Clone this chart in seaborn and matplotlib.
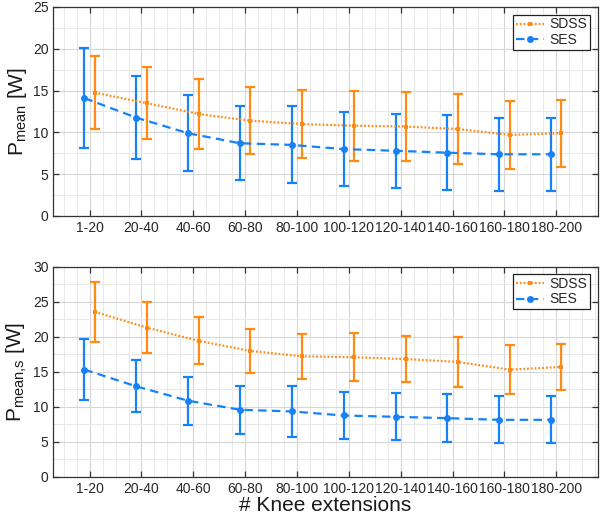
import numpy as np
import pandas as pd
import matplotlib
matplotlib.use("Agg")
import matplotlib.pyplot as plt
import seaborn as sns
from matplotlib.ticker import MultipleLocator

categories = ["1-20", "20-40", "40-60", "60-80", "80-100",
              "100-120", "120-140", "140-160", "160-180", "180-200"]

# Top panel: P_mean [W]
sdss_mean_top = [14.75, 13.5, 12.2, 11.4, 11.0, 10.8, 10.7, 10.4, 9.7, 9.9]
sdss_sd_top = [4.4, 4.35, 4.15, 4.0, 4.05, 4.2, 4.1, 4.2, 4.05, 4.0]
ses_mean_top = [14.1, 11.76, 9.9, 8.7, 8.5, 8.0, 7.8, 7.57, 7.38, 7.38]
ses_sd_top = [6.0, 4.95, 4.55, 4.45, 4.6, 4.4, 4.4, 4.45, 4.35, 4.35]

# Bottom panel: P_mean,s [W]
sdss_mean_bot = [23.55, 21.3, 19.4, 17.96, 17.2, 17.06, 16.8, 16.39, 15.29, 15.67]
sdss_sd_bot = [4.3, 3.6, 3.35, 3.1, 3.2, 3.45, 3.3, 3.55, 3.55, 3.3]
ses_mean_bot = [15.3, 12.9, 10.85, 9.56, 9.32, 8.74, 8.55, 8.36, 8.12, 8.12]
ses_sd_bot = [4.3, 3.7, 3.45, 3.45, 3.6, 3.4, 3.35, 3.45, 3.37, 3.35]

ORANGE = "#ff8a14"
BLUE = "#1781f7"

sns.set_style("whitegrid")
plt.rcParams["font.family"] = ["Liberation Sans", "DejaVu Sans"]
plt.rcParams["mathtext.fontset"] = "custom"
plt.rcParams["mathtext.rm"] = "Liberation Sans"
plt.rcParams["mathtext.it"] = "Liberation Sans:italic"
plt.rcParams["mathtext.bf"] = "Liberation Sans:bold"

fig = plt.figure(figsize=(6.0, 5.14), dpi=100)
ax1 = fig.add_axes([0.0889, 0.5798, 0.9073, 0.4066])
ax2 = fig.add_axes([0.0889, 0.0726, 0.9073, 0.4086])


def panel(ax, sdss_m, sdss_sd, ses_m, ses_sd, ymax, ylabel):
    pos = np.arange(1, len(categories) + 1)
    df_sdss = pd.DataFrame({"x": pos + 0.1, "val": sdss_m, "sd": sdss_sd})
    df_ses = pd.DataFrame({"x": pos - 0.1, "val": ses_m, "sd": ses_sd})

    sns.lineplot(data=df_sdss, x="x", y="val", ax=ax, color=ORANGE,
                 linestyle=(0, (0.8, 0.9)), linewidth=1.6, marker="s",
                 markersize=3, markeredgewidth=0, label="SDSS",
                 errorbar=None, zorder=3)
    sns.lineplot(data=df_ses, x="x", y="val", ax=ax, color=BLUE,
                 linestyle=(0, (3.8, 2.4)), linewidth=1.6, marker="o",
                 markersize=5, markeredgewidth=0, label="SES",
                 errorbar=None, zorder=3)
    ax.errorbar(df_sdss["x"], df_sdss["val"], yerr=df_sdss["sd"], fmt="none",
                ecolor=ORANGE, elinewidth=1.6, capsize=3.3, capthick=1.6,
                zorder=2)
    ax.errorbar(df_ses["x"], df_ses["val"], yerr=df_ses["sd"], fmt="none",
                ecolor=BLUE, elinewidth=1.6, capsize=3.3, capthick=1.6,
                zorder=2)

    ax.set_xlim(0.3, 10.8)
    ax.set_ylim(0, ymax)
    ax.set_xticks(pos)
    ax.set_xticklabels(categories)
    ax.set_yticks(np.arange(0, ymax + 0.1, 5))
    ax.xaxis.set_minor_locator(MultipleLocator(0.25))
    ax.yaxis.set_minor_locator(MultipleLocator(2.5))
    ax.grid(True, which="major", color="#d6d6d6", linewidth=0.8)
    ax.grid(True, which="minor", color="#e8e8e8", linewidth=0.7)
    ax.set_axisbelow(True)
    ax.tick_params(which="major", direction="in", length=4, width=0.9,
                   color="#333333", top=True, right=True, bottom=True,
                   left=True, labelsize=10, labelcolor="#262626", pad=3.5)
    ax.tick_params(which="minor", length=0)
    for sp in ax.spines.values():
        sp.set_color("#333333")
        sp.set_linewidth(0.9)
    ax.set_facecolor("white")
    ax.set_ylabel(ylabel, fontsize=15, labelpad=3, color="#1a1a1a")
    ax.set_xlabel("")
    leg = ax.legend(loc="upper right", fontsize=10, frameon=True,
                    fancybox=False, edgecolor="#222222", framealpha=1,
                    borderaxespad=0.55, borderpad=0.2, labelspacing=0.1,
                    handlelength=2.0, handletextpad=0.4)
    leg.get_frame().set_linewidth(0.9)


panel(ax1, sdss_mean_top, sdss_sd_top, ses_mean_top, ses_sd_top, 25,
      r"$\mathrm{P_{mean}}$ [W]")
panel(ax2, sdss_mean_bot, sdss_sd_bot, ses_mean_bot, ses_sd_bot, 30,
      r"$\mathrm{P_{mean{,}s}}$ [W]")
ax2.set_xlabel("# Knee extensions", fontsize=15, color="#1a1a1a", labelpad=0)

fig.savefig("out.png", dpi=100, facecolor="white")
